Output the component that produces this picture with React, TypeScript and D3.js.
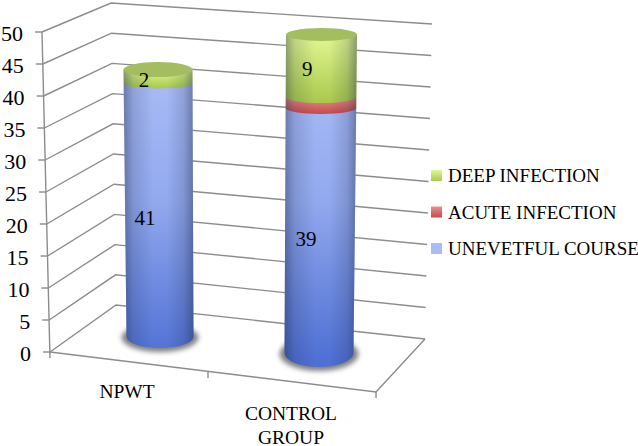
import React from "react";
import * as d3 from "d3";

const categories = ["NPWT", "CONTROL GROUP"];
const seriesNames = ["UNEVETFUL COURSE", "ACUTE INFECTION", "DEEP INFECTION"];
const uneventful = [41, 39];
const acute = [0, 2];
const deep = [2, 9];
const yTicks = [0, 5, 10, 15, 20, 25, 30, 35, 40, 45, 50];

const FONT = "'Liberation Serif', serif";
const GRID = "#8c8c8c";

// wall and floor edges of the 3d box, value -> pixel
const frontY = d3.scaleLinear().domain([0, 50]).range([352, 32]);
const frontX = d3.scaleLinear().domain([0, 50]).range([50, 42]);
const backY = d3.scaleLinear().domain([0, 50]).range([305, 3]);
const backX = d3.scaleLinear().domain([0, 50]).range([116, 111]);
const rightY = d3.scaleLinear().domain([0, 50]).range([339, 24]);
const rightX = d3.scaleLinear().domain([0, 50]).range([425, 432]);

// one set of scales per cylinder because of the perspective
const cylinders = [
  {
    y: d3.scaleLinear().domain([0, 41, 43]).range([336.5, 83, 69.5]),
    cx: d3.scaleLinear().domain([0, 43]).range([160, 158]),
    rx: d3.scaleLinear().domain([0, 43]).range([33.5, 34.5]),
    ry: d3.scaleLinear().domain([0, 41, 43]).range([11.5, 5.5, 7.5]),
  },
  {
    y: d3.scaleLinear().domain([0, 39, 41, 50]).range([353, 108, 97, 34.5]),
    cx: d3.scaleLinear().domain([0, 50]).range([319, 321.5]),
    rx: d3.scaleLinear().domain([0, 50]).range([34.5, 35.5]),
    ry: d3.scaleLinear().domain([0, 39, 50]).range([14, 6, 6.5]),
  },
];

const fills = ["url(#blue)", "url(#red)", "url(#green)"];
const topFills = ["#a3bd5f", "#a3bd5f"];
const labelShift = [8, 0, 3.5];

const rows = categories.map((c, i) => ({
  category: c,
  [seriesNames[0]]: uneventful[i],
  [seriesNames[1]]: acute[i],
  [seriesNames[2]]: deep[i],
}));
const stacked = d3.stack<any>().keys(seriesNames)(rows);

function sidePath(c: (typeof cylinders)[number], v0: number, v1: number) {
  const y0 = c.y(v0);
  const y1 = c.y(v1);
  const rx = c.rx(v0);
  const ry = c.ry(v0);
  const l0 = c.cx(v0) - rx;
  const r0 = c.cx(v0) + rx;
  const l1 = c.cx(v1) - c.rx(v1);
  const r1 = c.cx(v1) + c.rx(v1);
  return `M${l1},${y1}L${l0},${y0}A${rx},${ry} 0 0 0 ${r0},${y0}L${r1},${y1}Z`;
}

function App() {
  return (
    <svg
      width={638}
      height={446}
      style={{ position: "absolute", left: 0, top: 0, background: "#fff" }}
      fontFamily={FONT}
    >
      <defs>
        <linearGradient id="blue" gradientUnits="userSpaceOnUse" x1="0" y1="70" x2="0" y2="360">
          <stop offset="0" stopColor="#a9bcf7" />
          <stop offset="0.45" stopColor="#92a9ee" />
          <stop offset="1" stopColor="#4f70d4" />
        </linearGradient>
        <linearGradient id="red" x1="0" y1="0" x2="0" y2="1">
          <stop offset="0" stopColor="#e89090" />
          <stop offset="1" stopColor="#c8474a" />
        </linearGradient>
        <linearGradient id="green" x1="0" y1="0" x2="0" y2="1">
          <stop offset="0" stopColor="#e2f894" />
          <stop offset="1" stopColor="#a8c94c" />
        </linearGradient>
        <linearGradient id="edge" x1="0" y1="0" x2="1" y2="0">
          <stop offset="0" stopColor="#1a2340" stopOpacity="0.42" />
          <stop offset="0.14" stopColor="#1a2340" stopOpacity="0.16" />
          <stop offset="0.42" stopColor="#1a2340" stopOpacity="0" />
          <stop offset="0.62" stopColor="#1a2340" stopOpacity="0" />
          <stop offset="0.86" stopColor="#1a2340" stopOpacity="0.16" />
          <stop offset="1" stopColor="#1a2340" stopOpacity="0.42" />
        </linearGradient>
        <filter id="soft" x="-30%" y="-60%" width="160%" height="220%">
          <feGaussianBlur stdDeviation="2.4" />
        </filter>
      </defs>

      {/* walls */}
      <g fill="none" stroke={GRID} strokeWidth={1.4}>
        {yTicks.map((t) => (
          <polyline
            key={t}
            points={[
              [frontX(t), frontY(t)],
              [backX(t), backY(t)],
              [rightX(t), rightY(t)],
            ]
              .map((p) => p.join(","))
              .join(" ")}
          />
        ))}
        <line x1={frontX(50)} y1={frontY(50)} x2={frontX(0)} y2={frontY(0) + 6} />
        {yTicks.map((t) => (
          <line key={t} x1={frontX(t) - 7} y1={frontY(t)} x2={frontX(t)} y2={frontY(t)} />
        ))}
        {/* floor front edge, with category ticks */}
        <polyline points={`50,352 376,392 ${rightX(0)},${rightY(0)}`} />
        <line x1={208} y1={372} x2={208} y2={378} />
        <line x1={376} y1={392} x2={376} y2={398} />
      </g>

      {/* cylinders */}
      {categories.map((cat, i) => {
        const c = cylinders[i];
        const total = uneventful[i] + acute[i] + deep[i];
        return (
          <g key={cat}>
            <ellipse
              cx={c.cx(0)}
              cy={c.y(0) + 1}
              rx={c.rx(0) + 5}
              ry={c.ry(0) + 3}
              fill="#6a6a6a"
              opacity={0.85}
              filter="url(#soft)"
            />
            {stacked.map((s, k) => {
              const [v0, v1] = s[i];
              if (v1 <= v0) return null;
              return <path key={s.key} d={sidePath(c, v0, v1)} fill={fills[k]} />;
            })}
            <path d={sidePath(c, 0, total)} fill="url(#edge)" />
            <ellipse
              cx={c.cx(total)}
              cy={c.y(total)}
              rx={c.rx(total)}
              ry={c.ry(total)}
              fill={topFills[i]}
            />
          </g>
        );
      })}

      {/* value labels */}
      {categories.map((cat, i) =>
        stacked.map((s, k) => {
          const [v0, v1] = s[i];
          const value = v1 - v0;
          if (k === 1 || !value) return null;
          const c = cylinders[i];
          const mid = (v0 + v1) / 2;
          return (
            <text
              key={cat + s.key}
              x={c.cx(mid) - 14}
              y={c.y(mid) + labelShift[k]}
              fontSize={21}
              textAnchor="middle"
              dominantBaseline="central"
              fill="#000"
            >
              {value}
            </text>
          );
        })
      )}

      {/* y tick labels */}
      {yTicks.map((t) => (
        <text
          key={t}
          x={frontX(t) - 19}
          y={frontY(t) + 1}
          fontSize={22}
          textAnchor="end"
          dominantBaseline="central"
          fill="#000"
        >
          {t}
        </text>
      ))}

      {/* category labels */}
      <text x={127} y={391} fontSize={19.5} textAnchor="middle" dominantBaseline="central">
        {categories[0]}
      </text>
      {categories[1].split(" ").map((w, j) => (
        <text key={w} x={291} y={413 + j * 24} fontSize={19.5} textAnchor="middle" dominantBaseline="central">
          {w}
        </text>
      ))}

      {/* legend */}
      {[2, 1, 0].map((k, j) => (
        <g key={k} transform={`translate(431,${170 + j * 36.5})`}>
          <rect width={11} height={11} fill={fills[k]} />
          <text x={17} y={5.5} fontSize={19} dominantBaseline="central" fill="#000">
            {seriesNames[k]}
          </text>
        </g>
      ))}
    </svg>
  );
}

export default App;
